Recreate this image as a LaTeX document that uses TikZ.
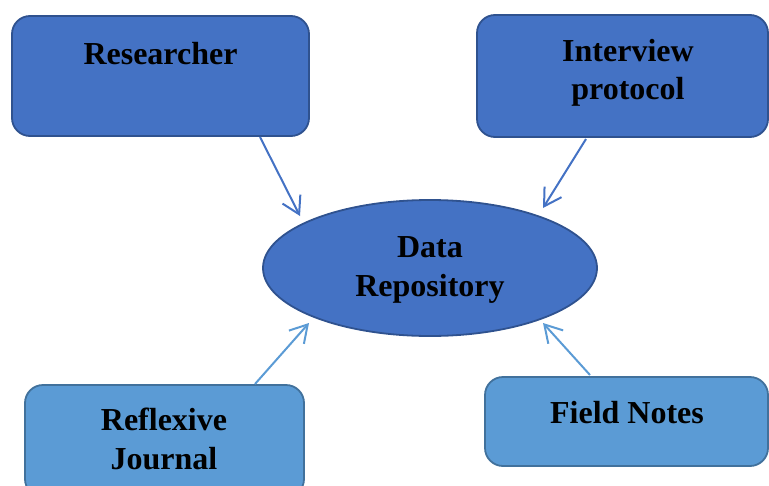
\documentclass[tikz,border=0pt]{standalone}
\usepackage{fontspec}
\setmainfont{Liberation Serif}
\usetikzlibrary{arrows.meta,shapes.geometric}
\definecolor{darkfill}{HTML}{4472C4}
\definecolor{darkline}{HTML}{2F528F}
\definecolor{lightfill}{HTML}{5B9BD5}
\definecolor{lightline}{HTML}{41719C}
\tikzset{
  darkbox/.style={draw=darkline,fill=darkfill,line width=1.8pt,rounded corners=18pt,inner sep=0pt},
  lightbox/.style={draw=lightline,fill=lightfill,line width=1.8pt,rounded corners=18pt,inner sep=0pt},
  lbl/.style={font=\fontsize{32}{38.5}\selectfont\bfseries,text=black,align=center,inner sep=0pt},
  darkarr/.style={draw=darkfill,line width=2pt,-{Straight Barb[length=17pt,width=20pt,line width=2pt]}},
  lightarr/.style={draw=lightfill,line width=2pt,-{Straight Barb[length=17pt,width=20pt,line width=2pt]}}
}
\begin{document}
\begin{tikzpicture}[x=1pt,y=-1pt]
\useasboundingbox (0,0) rectangle (769,485);
% boxes
\node[darkbox,minimum width=297pt,minimum height=120pt] (res) at (160.5,76) {};
\node[darkbox,minimum width=291pt,minimum height=122pt] (int) at (622.5,76) {};
\node[lightbox,minimum width=279pt,minimum height=112pt] (ref) at (164.5,441) {};
\node[lightbox,minimum width=283pt,minimum height=89pt] (fld) at (626.5,421.5) {};
\node[ellipse,draw=darkline,fill=darkfill,line width=1.8pt,minimum width=334pt,minimum height=136pt,inner sep=0pt] (rep) at (430,268) {};
% labels
\node[lbl,anchor=base] (tres) at (160.5,64) {Researcher};
\node[lbl] (tint) at (628,73) {Interview\\protocol};
\node[lbl] (trep) at (430,270) {Data\\Repository};
\node[lbl] (tref) at (164,439) {Reflexive\\Journal};
\node[lbl,anchor=base] (tfld) at (627,423) {Field Notes};
% arrow endpoints
\coordinate (s1) at (260,137);
\coordinate (e1) at (300,216);
\coordinate (s2) at (586,139);
\coordinate (e2) at (543,208);
\coordinate (s3) at (255,384);
\coordinate (e3) at (309,323);
\coordinate (s4) at (590,375);
\coordinate (e4) at (543,323);
\draw[darkarr] (s1) -- (e1);
\draw[darkarr] (s2) -- (e2);
\draw[lightarr] (s3) -- (e3);
\draw[lightarr] (s4) -- (e4);
\end{tikzpicture}
\end{document}
